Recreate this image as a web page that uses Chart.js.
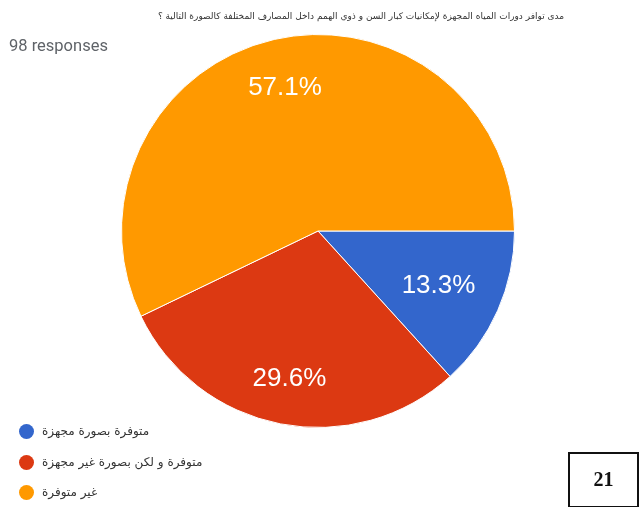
<!DOCTYPE html>
<html>
  <head>
    <meta charset="utf-8">
    <title>Pie Chart</title>
    <script src="https://cdn.jsdelivr.net/npm/chart.js"></script>
    <style type="text/css">
      html, body {
        width: 640px; height: 507px; margin: 0; padding: 0;
        background: #ffffff; overflow: hidden;
      }
      #wrap { position: relative; width: 640px; height: 507px; }
      #pie { position: absolute; left: 0; top: 0; }
      /* Question text above the chart */
      #title {
        position: absolute; top: 11px; left: 0; width: 722px; text-align: center;
        direction: rtl; font-family: "DejaVu Sans", sans-serif; font-size: 9px; color: #333;
        white-space: nowrap;
      }
      #responses {
        position: absolute; top: 36px; left: 9px;
        font-family: Roboto, "Liberation Sans", sans-serif; font-size: 16.5px; color: #5f6368;
      }
      #legend { position: absolute; left: 19px; top: 424px; }
      .item { height: 30.5px; display: flex; align-items: flex-start; }
      .dot { width: 15px; height: 15px; border-radius: 50%; margin-right: 8px; flex: none; }
      .txt {
        direction: rtl; font-family: "DejaVu Sans", sans-serif; font-size: 12px; color: #333;
        letter-spacing: 1.5px; line-height: 15px; white-space: nowrap;
      }
      #page {
        position: absolute; left: 568px; top: 452px; width: 67px; height: 52px;
        border: 2px solid #111; font-family: "Liberation Serif", serif; font-weight: bold;
        font-size: 20px; color: #111; text-align: center; line-height: 50px;
      }
    </style>
  </head>
  <body>
    <div id="wrap">
      <canvas id="pie" width="640" height="507"></canvas>
      <div id="title"></div>
      <div id="responses"></div>
      <div id="legend"></div>
      <div id="page">21</div>
    </div>
    <script>
      // Survey answers and counts
      var question = 'مدى توافر دورات المياه المجهزة لإمكانيات كبار السن و ذوي الهمم داخل المصارف المختلفة كالصورة التالية ؟';
      var answers = ['متوفرة بصورة مجهزة', 'متوفرة و لكن بصورة غير مجهزة', 'غير متوفرة'];
      var counts = [13, 29, 56];
      var sliceColors = ['#3366cc', '#dc3912', '#ff9900'];
      var totalResponses = 98;

      document.getElementById('title').textContent = question;
      document.getElementById('responses').textContent = totalResponses + ' responses';

      // Legend down the bottom-left
      var legend = document.getElementById('legend');
      answers.forEach(function (name, i) {
        var row = document.createElement('div');
        row.className = 'item';
        var dot = document.createElement('span');
        dot.className = 'dot';
        dot.style.background = sliceColors[i];
        var txt = document.createElement('span');
        txt.className = 'txt';
        txt.textContent = name;
        row.appendChild(dot);
        row.appendChild(txt);
        legend.appendChild(row);
      });

      // Percent labels inside each slice; pulled inward until the text box fits
      var sliceLabels = {
        id: 'sliceLabels',
        afterDatasetsDraw: function (chart) {
          var ctx = chart.ctx;
          var data = chart.data.datasets[0].data;
          var sum = data.reduce(function (a, b) { return a + b; }, 0);
          ctx.save();
          ctx.fillStyle = '#ffffff';
          ctx.font = '26px "Liberation Sans", Arial, sans-serif';
          ctx.textAlign = 'center';
          ctx.textBaseline = 'middle';
          chart.getDatasetMeta(0).data.forEach(function (arc, i) {
            var p = arc.getProps(['x', 'y', 'startAngle', 'endAngle', 'outerRadius'], true);
            var mid = (p.startAngle + p.endAngle) / 2;
            var pct = (data[i] / sum * 100).toFixed(1) + '%';
            var hw = ctx.measureText(pct).width / 2, hh = 10;
            var c = Math.cos(mid), s = Math.sin(mid);
            var r = p.outerRadius * 0.78;
            while (r > 0) {
              var fx = Math.abs(c * r) + hw, fy = Math.abs(s * r) + hh;
              if (Math.sqrt(fx * fx + fy * fy) <= p.outerRadius * 0.865) break;
              r -= 0.5;
            }
            ctx.fillText(pct, p.x + c * r, p.y + s * r + 1);
          });
          ctx.restore();
        }
      };

      new Chart(document.getElementById('pie'), {
        type: 'pie',
        data: {
          labels: answers,
          datasets: [{
            data: counts,
            backgroundColor: sliceColors,
            borderColor: '#ffffff',
            borderWidth: 1,
            hoverOffset: 0
          }]
        },
        options: {
          responsive: false,
          animation: false,
          events: [],
          rotation: 90,
          layout: { padding: { top: 34, bottom: 79, left: 0, right: 4 } },
          plugins: {
            legend: { display: false },
            tooltip: { enabled: false }
          }
        },
        plugins: [sliceLabels]
      });
    </script>
  </body>
</html>
